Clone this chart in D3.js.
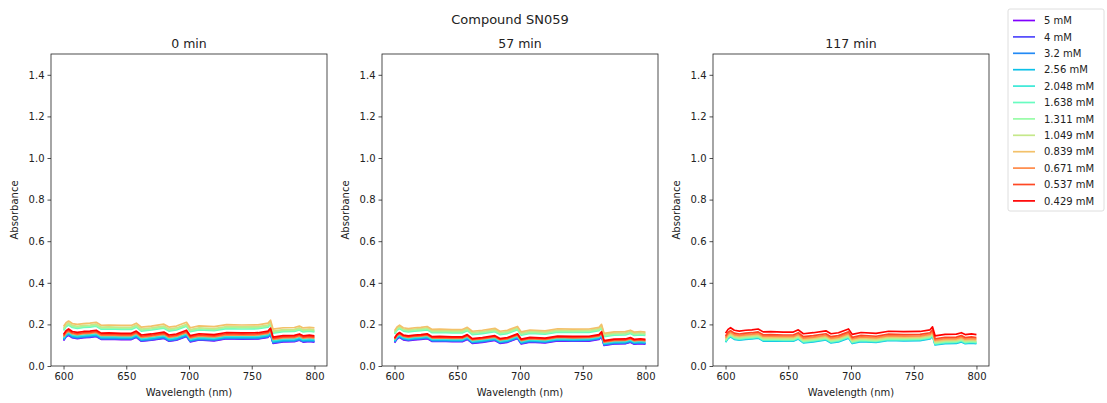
<!DOCTYPE html>
<html><head><meta charset="utf-8">
<script src="https://cdn.jsdelivr.net/npm/d3@7"></script>
<style>body{margin:0;background:#fff}svg{display:block}text{font-family:"DejaVu Sans",sans-serif;fill:#222}</style>
</head><body><svg id="c" width="1107" height="403"></svg>
<script>
const figTitle = "Compound SN059";
const panelTitles = ["0 min", "57 min", "117 min"];
const concentrations = ["5 mM","4 mM","3.2 mM","2.56 mM","2.048 mM","1.638 mM","1.311 mM","1.049 mM","0.839 mM","0.671 mM","0.537 mM","0.429 mM"];
const wavelengths = [600,602,604,607,611,616,621,626,630,636,646,654,658,662,670,680,684,690,698,701,708,720,730,742,755,763,765,767,775,784,788,791,796,800];
const xTicks = [600,650,700,750,800];
const yTicks = [0.0,0.2,0.4,0.6,0.8,1.0,1.2,1.4];

// Panel 0 min
const p0_5    = [0.122,0.140,0.148,0.136,0.132,0.136,0.138,0.142,0.128,0.129,0.127,0.127,0.138,0.119,0.124,0.133,0.119,0.124,0.142,0.116,0.125,0.121,0.131,0.129,0.130,0.138,0.152,0.109,0.116,0.117,0.124,0.115,0.118,0.115];
const p0_4    = [0.124,0.142,0.150,0.138,0.134,0.138,0.140,0.144,0.130,0.131,0.129,0.129,0.140,0.121,0.126,0.135,0.121,0.126,0.144,0.118,0.127,0.123,0.133,0.131,0.132,0.140,0.154,0.111,0.118,0.119,0.126,0.117,0.120,0.117];
const p0_32   = [0.126,0.144,0.152,0.140,0.136,0.140,0.142,0.146,0.132,0.133,0.131,0.131,0.142,0.123,0.128,0.137,0.123,0.128,0.146,0.120,0.129,0.125,0.135,0.133,0.134,0.142,0.156,0.113,0.120,0.121,0.128,0.119,0.122,0.119];
const p0_256  = [0.130,0.148,0.156,0.144,0.140,0.144,0.146,0.150,0.136,0.137,0.135,0.135,0.146,0.127,0.132,0.141,0.127,0.132,0.150,0.124,0.133,0.129,0.139,0.137,0.138,0.146,0.160,0.117,0.124,0.125,0.132,0.123,0.126,0.123];
const p0_2048 = [0.135,0.153,0.161,0.149,0.145,0.149,0.151,0.155,0.141,0.142,0.140,0.140,0.151,0.132,0.137,0.146,0.132,0.137,0.155,0.129,0.138,0.134,0.144,0.142,0.143,0.151,0.165,0.122,0.129,0.130,0.137,0.128,0.131,0.128];
const p0_1638 = [0.171,0.189,0.197,0.185,0.181,0.185,0.187,0.191,0.177,0.178,0.176,0.176,0.187,0.168,0.173,0.182,0.168,0.173,0.191,0.165,0.174,0.170,0.180,0.178,0.179,0.187,0.201,0.158,0.165,0.166,0.173,0.164,0.167,0.164];
const p0_1311 = [0.176,0.194,0.202,0.190,0.186,0.190,0.192,0.196,0.182,0.183,0.181,0.181,0.192,0.173,0.178,0.187,0.173,0.178,0.196,0.170,0.179,0.175,0.185,0.183,0.184,0.192,0.206,0.163,0.170,0.171,0.178,0.169,0.172,0.169];
const p0_1049 = [0.181,0.199,0.207,0.195,0.191,0.195,0.197,0.201,0.187,0.188,0.186,0.186,0.197,0.178,0.183,0.192,0.178,0.183,0.201,0.175,0.184,0.180,0.190,0.188,0.189,0.197,0.211,0.168,0.175,0.176,0.183,0.174,0.177,0.174];
const p0_0839 = [0.190,0.208,0.216,0.204,0.200,0.204,0.206,0.210,0.196,0.197,0.195,0.195,0.206,0.187,0.192,0.201,0.187,0.192,0.210,0.184,0.193,0.189,0.199,0.197,0.198,0.206,0.220,0.177,0.184,0.185,0.192,0.183,0.186,0.183];
const p0_0671 = [0.141,0.159,0.167,0.155,0.151,0.155,0.157,0.161,0.147,0.148,0.146,0.146,0.157,0.138,0.143,0.152,0.138,0.143,0.161,0.135,0.144,0.140,0.150,0.148,0.149,0.157,0.171,0.128,0.135,0.136,0.143,0.134,0.137,0.134];
const p0_0537 = [0.146,0.164,0.172,0.160,0.156,0.160,0.162,0.166,0.152,0.153,0.151,0.151,0.162,0.143,0.148,0.157,0.143,0.148,0.166,0.140,0.149,0.145,0.155,0.153,0.154,0.162,0.176,0.133,0.140,0.141,0.148,0.139,0.142,0.139];
const p0_0429 = [0.152,0.170,0.178,0.166,0.162,0.166,0.168,0.172,0.158,0.159,0.157,0.157,0.168,0.149,0.154,0.163,0.149,0.154,0.172,0.146,0.155,0.151,0.161,0.159,0.160,0.168,0.182,0.139,0.146,0.147,0.154,0.145,0.148,0.145];

// Panel 57 min
const p1_5    = [0.112,0.130,0.138,0.126,0.122,0.126,0.128,0.132,0.118,0.119,0.117,0.117,0.128,0.109,0.114,0.123,0.109,0.114,0.132,0.106,0.115,0.111,0.121,0.119,0.120,0.128,0.142,0.099,0.106,0.107,0.114,0.105,0.108,0.105];
const p1_4    = [0.114,0.132,0.140,0.128,0.124,0.128,0.130,0.134,0.120,0.121,0.119,0.119,0.130,0.111,0.116,0.125,0.111,0.116,0.134,0.108,0.117,0.113,0.123,0.121,0.122,0.130,0.144,0.101,0.108,0.109,0.116,0.107,0.110,0.107];
const p1_32   = [0.116,0.134,0.142,0.130,0.126,0.130,0.132,0.136,0.122,0.123,0.121,0.121,0.132,0.113,0.118,0.127,0.113,0.118,0.136,0.110,0.119,0.115,0.125,0.123,0.124,0.132,0.146,0.103,0.110,0.111,0.118,0.109,0.112,0.109];
const p1_256  = [0.119,0.137,0.145,0.133,0.129,0.133,0.135,0.139,0.125,0.126,0.124,0.124,0.135,0.116,0.121,0.130,0.116,0.121,0.139,0.113,0.122,0.118,0.128,0.126,0.127,0.135,0.149,0.106,0.113,0.114,0.121,0.112,0.115,0.112];
const p1_2048 = [0.123,0.141,0.149,0.137,0.133,0.137,0.139,0.143,0.129,0.130,0.128,0.128,0.139,0.120,0.125,0.134,0.120,0.125,0.143,0.117,0.126,0.122,0.132,0.130,0.131,0.139,0.153,0.110,0.117,0.118,0.125,0.116,0.119,0.116];
const p1_1638 = [0.154,0.172,0.180,0.168,0.164,0.168,0.170,0.174,0.160,0.161,0.159,0.159,0.170,0.151,0.156,0.165,0.151,0.156,0.174,0.148,0.157,0.153,0.163,0.161,0.162,0.170,0.184,0.141,0.148,0.149,0.156,0.147,0.150,0.147];
const p1_1311 = [0.159,0.177,0.185,0.173,0.169,0.173,0.175,0.179,0.165,0.166,0.164,0.164,0.175,0.156,0.161,0.170,0.156,0.161,0.179,0.153,0.162,0.158,0.168,0.166,0.167,0.175,0.189,0.146,0.153,0.154,0.161,0.152,0.155,0.152];
const p1_1049 = [0.164,0.182,0.190,0.178,0.174,0.178,0.180,0.184,0.170,0.171,0.169,0.169,0.180,0.161,0.166,0.175,0.161,0.166,0.184,0.158,0.167,0.163,0.173,0.171,0.172,0.180,0.194,0.151,0.158,0.159,0.166,0.157,0.160,0.157];
const p1_0839 = [0.170,0.188,0.196,0.184,0.180,0.184,0.186,0.190,0.176,0.177,0.175,0.175,0.186,0.167,0.172,0.181,0.167,0.172,0.190,0.164,0.173,0.169,0.179,0.177,0.178,0.186,0.200,0.157,0.164,0.165,0.172,0.163,0.166,0.163];
const p1_0671 = [0.128,0.146,0.154,0.142,0.138,0.142,0.144,0.148,0.134,0.135,0.133,0.133,0.144,0.125,0.130,0.139,0.125,0.130,0.148,0.122,0.131,0.127,0.137,0.135,0.136,0.144,0.158,0.115,0.122,0.123,0.130,0.121,0.124,0.121];
const p1_0537 = [0.131,0.149,0.157,0.145,0.141,0.145,0.147,0.151,0.137,0.138,0.136,0.136,0.147,0.128,0.133,0.142,0.128,0.133,0.151,0.125,0.134,0.130,0.140,0.138,0.139,0.147,0.161,0.118,0.125,0.126,0.133,0.124,0.127,0.124];
const p1_0429 = [0.135,0.153,0.161,0.149,0.145,0.149,0.151,0.155,0.141,0.142,0.140,0.140,0.151,0.132,0.137,0.146,0.132,0.137,0.155,0.129,0.138,0.134,0.144,0.142,0.143,0.151,0.165,0.122,0.129,0.130,0.137,0.128,0.131,0.128];

// Panel 117 min (highest concentrations not shown)
const p2_5    = [];
const p2_4    = [];
const p2_32   = [];
const p2_256  = [0.114,0.132,0.140,0.128,0.124,0.128,0.130,0.134,0.120,0.121,0.119,0.119,0.130,0.111,0.116,0.125,0.111,0.116,0.134,0.108,0.117,0.113,0.123,0.121,0.122,0.130,0.144,0.101,0.108,0.109,0.116,0.107,0.110,0.107];
const p2_2048 = [0.117,0.135,0.143,0.131,0.127,0.131,0.133,0.137,0.123,0.124,0.122,0.122,0.133,0.114,0.119,0.128,0.114,0.119,0.137,0.111,0.120,0.116,0.126,0.124,0.125,0.133,0.147,0.104,0.111,0.112,0.119,0.110,0.113,0.110];
const p2_1638 = [0.120,0.138,0.146,0.134,0.130,0.134,0.136,0.140,0.126,0.127,0.125,0.125,0.136,0.117,0.122,0.131,0.117,0.122,0.140,0.114,0.123,0.119,0.129,0.127,0.128,0.136,0.150,0.107,0.114,0.115,0.122,0.113,0.116,0.113];
const p2_1311 = [0.123,0.141,0.149,0.137,0.133,0.137,0.139,0.143,0.129,0.130,0.128,0.128,0.139,0.120,0.125,0.134,0.120,0.125,0.143,0.117,0.126,0.122,0.132,0.130,0.131,0.139,0.153,0.110,0.117,0.118,0.125,0.116,0.119,0.116];
const p2_1049 = [0.127,0.145,0.153,0.141,0.137,0.141,0.143,0.147,0.133,0.134,0.132,0.132,0.143,0.124,0.129,0.138,0.124,0.129,0.147,0.121,0.130,0.126,0.136,0.134,0.135,0.143,0.157,0.114,0.121,0.122,0.129,0.120,0.123,0.120];
const p2_0839 = [0.132,0.150,0.158,0.146,0.142,0.146,0.148,0.152,0.138,0.139,0.137,0.137,0.148,0.129,0.134,0.143,0.129,0.134,0.152,0.126,0.135,0.131,0.141,0.139,0.140,0.148,0.162,0.119,0.126,0.127,0.134,0.125,0.128,0.125];
const p2_0671 = [0.137,0.155,0.163,0.151,0.147,0.151,0.153,0.157,0.143,0.144,0.142,0.142,0.153,0.134,0.139,0.148,0.134,0.139,0.157,0.131,0.140,0.136,0.146,0.144,0.145,0.153,0.167,0.124,0.131,0.132,0.139,0.130,0.133,0.130];
const p2_0537 = [0.144,0.162,0.170,0.158,0.154,0.158,0.160,0.164,0.150,0.151,0.149,0.149,0.160,0.141,0.146,0.155,0.141,0.146,0.164,0.138,0.147,0.143,0.153,0.151,0.152,0.160,0.174,0.131,0.138,0.139,0.146,0.137,0.140,0.137];
const p2_0429 = [0.158,0.176,0.184,0.172,0.168,0.172,0.174,0.178,0.164,0.165,0.163,0.163,0.174,0.155,0.160,0.169,0.155,0.160,0.178,0.152,0.161,0.157,0.167,0.165,0.166,0.174,0.188,0.145,0.152,0.153,0.160,0.151,0.154,0.151];

const panels = [
  [p0_5,p0_4,p0_32,p0_256,p0_2048,p0_1638,p0_1311,p0_1049,p0_0839,p0_0671,p0_0537,p0_0429],
  [p1_5,p1_4,p1_32,p1_256,p1_2048,p1_1638,p1_1311,p1_1049,p1_0839,p1_0671,p1_0537,p1_0429],
  [p2_5,p2_4,p2_32,p2_256,p2_2048,p2_1638,p2_1311,p2_1049,p2_0839,p2_0671,p2_0537,p2_0429]
];

const svg = d3.select("#c");
function rainbow(t){
  const r = Math.min(1, Math.abs(2*t-0.5)), g = Math.sin(Math.PI*t), b = Math.cos(Math.PI*t/2);
  return d3.rgb(Math.round(r*255), Math.round(g*255), Math.round(Math.max(0,b)*255)).toString();
}

const PW = 276, PH = 312, PTOP = 54;
const lefts = [51, 382, 713];

svg.append("text").attr("x", 510).attr("y", 24).attr("text-anchor","middle")
  .style("font-size","13px").text(figTitle);

panels.forEach((series, pi) => {
  const g = svg.append("g").attr("transform", `translate(${lefts[pi]},${PTOP})`);
  const x = d3.scaleLinear().domain([590, 810]).range([0, PW]);
  const y = d3.scaleLinear().domain([0, 1.5]).range([PH, 0]);
  const line = d3.line().x((d,i) => x(wavelengths[i])).y(d => y(d));

  series.forEach((vals, si) => {
    if (!vals.length) return;
    g.append("path").attr("d", line(vals)).attr("fill","none")
      .attr("stroke", rainbow(si/11)).attr("stroke-width", 1.7).attr("stroke-linejoin","round");
  });

  const xa = g.append("g").attr("transform", `translate(0,${PH})`)
    .call(d3.axisBottom(x).tickValues(xTicks).tickSize(3.5).tickPadding(3).tickFormat(d3.format("d")));
  const ya = g.append("g")
    .call(d3.axisLeft(y).tickValues(yTicks).tickSize(3.5).tickPadding(3).tickFormat(d3.format(".1f")));
  [xa, ya].forEach(a => {
    a.select(".domain").remove();
    a.selectAll("line").attr("stroke","#222").attr("stroke-width",0.8);
    a.selectAll("text").style("font-size","10px").style("font-family",'"DejaVu Sans",sans-serif').attr("fill","#222");
  });
  g.append("rect").attr("x",0).attr("y",0).attr("width",PW).attr("height",PH)
    .attr("fill","none").attr("stroke","#222").attr("stroke-width",0.8);

  g.append("text").attr("x", PW/2).attr("y", -6).attr("text-anchor","middle")
    .style("font-size","12.5px").text(panelTitles[pi]);
  g.append("text").attr("x", PW/2).attr("y", PH + 30).attr("text-anchor","middle")
    .style("font-size","10px").text("Wavelength (nm)");
  g.append("text").attr("transform", `translate(-33,${PH/2}) rotate(-90)`).attr("text-anchor","middle")
    .style("font-size","10px").text("Absorbance");
});

// Legend
const lg = svg.append("g").attr("transform","translate(1008,9)");
lg.append("rect").attr("x",0).attr("y",0).attr("width",96).attr("height",202).attr("rx",2)
  .attr("fill","#fff").attr("stroke","#d6d6d6").attr("stroke-width",0.8);
concentrations.forEach((c, i) => {
  const yy = 11.5 + i*16.4;
  lg.append("line").attr("x1",5).attr("x2",27).attr("y1",yy).attr("y2",yy)
    .attr("stroke", rainbow(i/11)).attr("stroke-width",1.7);
  lg.append("text").attr("x",36).attr("y",yy+3.6).style("font-size","10px").text(c);
});
</script></body></html>
